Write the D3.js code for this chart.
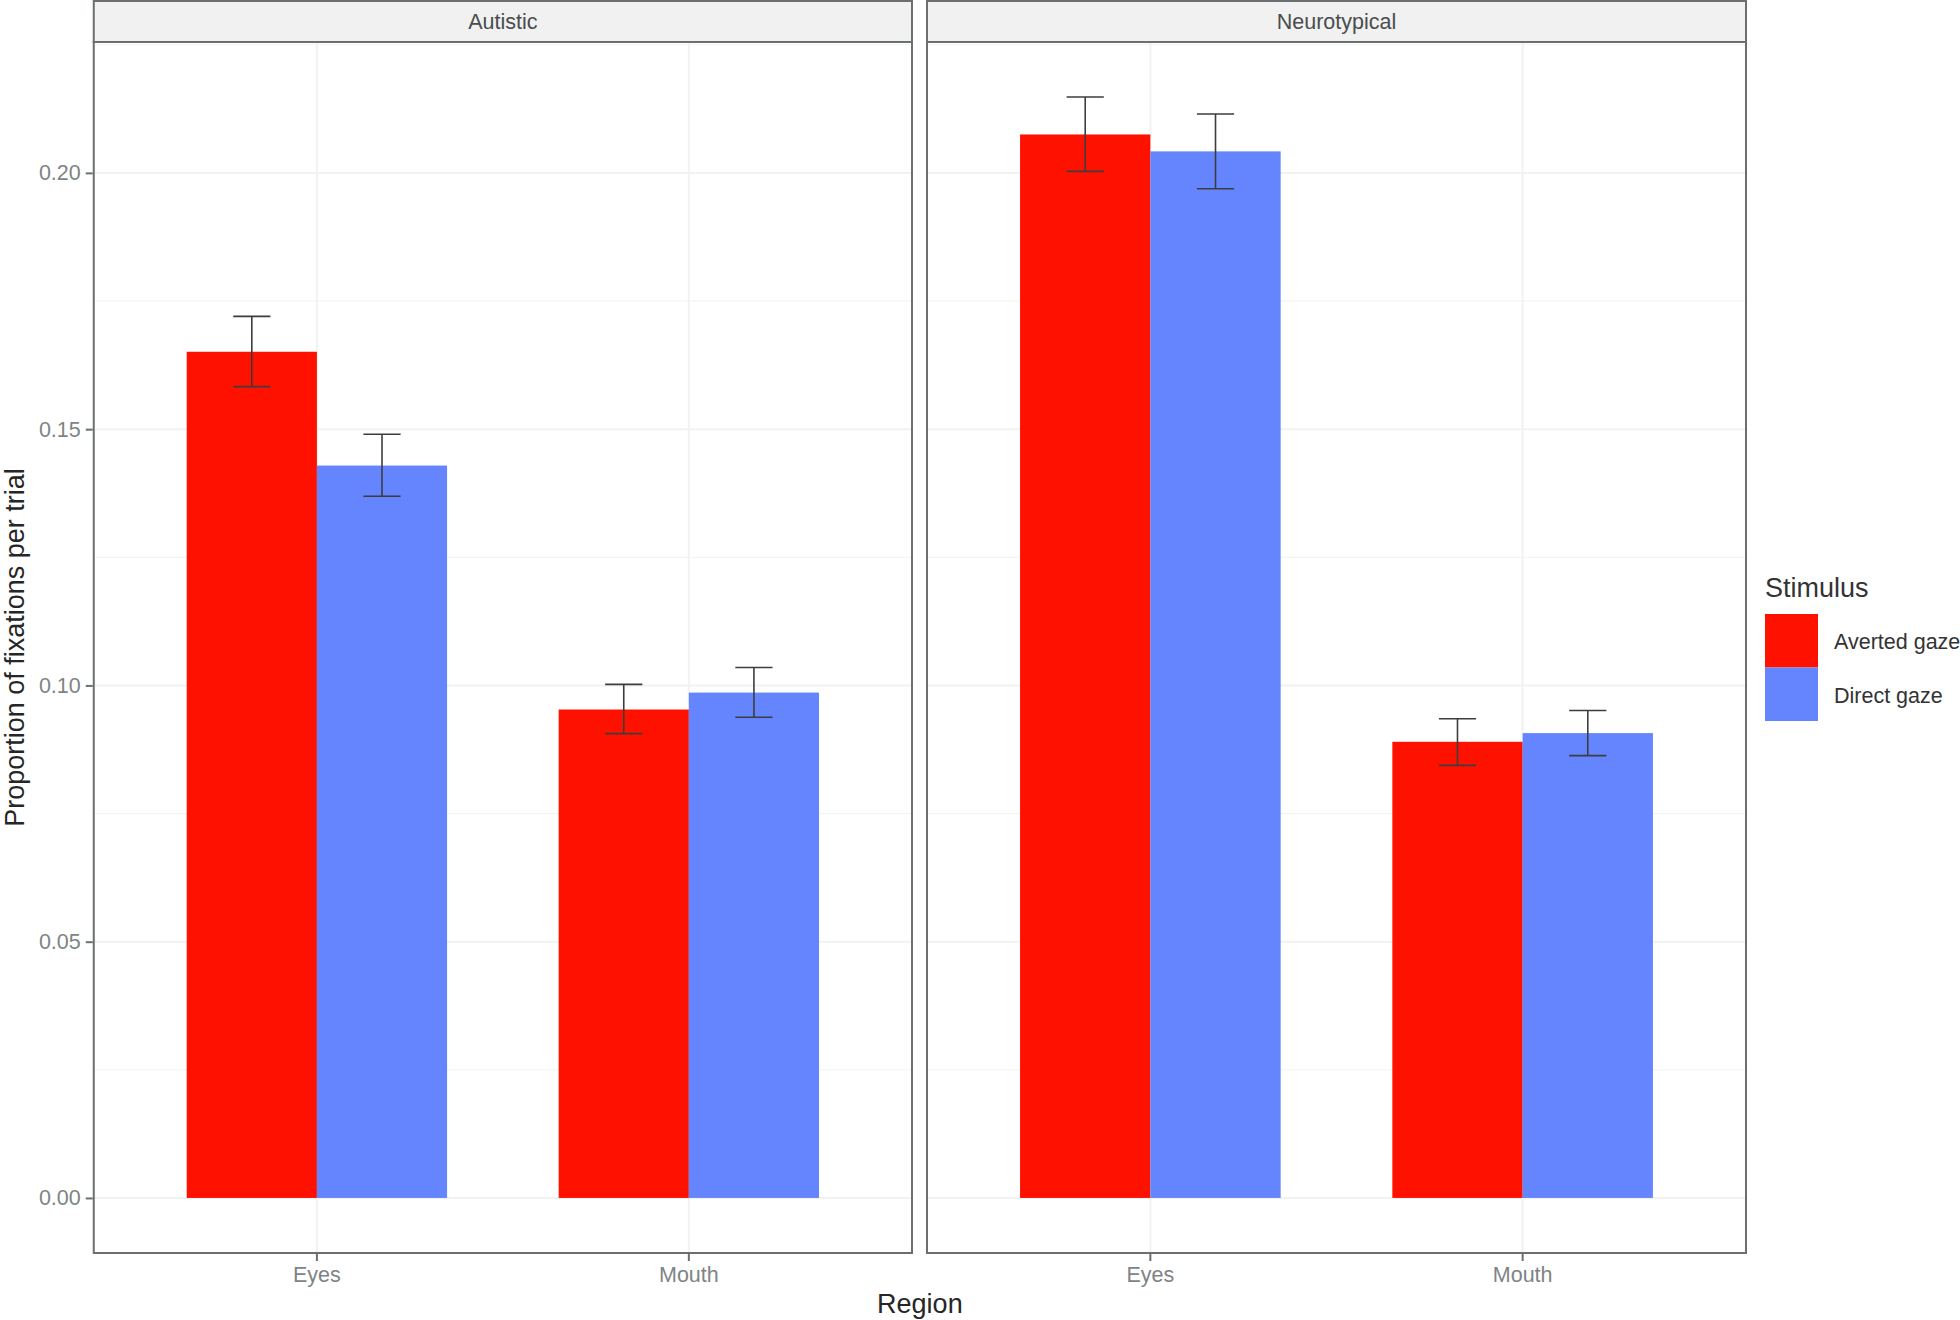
<!DOCTYPE html>
<html>
<head>
<meta charset="utf-8">
<script src="https://cdn.jsdelivr.net/npm/d3@7"></script>
<style>
  body { margin: 0; background: #fff; }
  svg { display: block; font-family: "Liberation Sans", Arial, sans-serif; }
</style>
</head>
<body>
<svg id="chart"></svg>
<script>
// data
const groups = ["Autistic", "Neurotypical"];
const regions = ["Eyes", "Mouth"];
const stimuli = ["Averted gaze", "Direct gaze"];

// order: Autistic Eyes, Autistic Mouth, Neurotypical Eyes, Neurotypical Mouth
const avertedMean = [0.1651, 0.0953, 0.2075, 0.0890];
const avertedLow  = [0.1583, 0.0906, 0.2003, 0.0844];
const avertedHigh = [0.1720, 0.1002, 0.2148, 0.0935];
const directMean  = [0.1429, 0.0986, 0.2042, 0.0907];
const directLow   = [0.1369, 0.0938, 0.1969, 0.0863];
const directHigh  = [0.1490, 0.1035, 0.2115, 0.0951];

const yTicks = [0, 0.05, 0.10, 0.15, 0.20];
const yMinor = [0.025, 0.075, 0.125, 0.175, 0.225];

// layout
var config = {
  w: 1960,
  h: 1320,
  top: 42,
  bottom: 1253,
  stripTop: 1,
  panels: [[93.75, 912], [927, 1746]]
};

var colors = d3.scaleOrdinal().domain(stimuli).range(["#ff1100", "#6585ff"]);

// build rows
var rows = [];
groups.forEach(function(g, gi) {
  regions.forEach(function(r, ri) {
    var k = gi * 2 + ri;
    rows.push({group: g, region: r, stim: stimuli[0], mean: avertedMean[k], lo: avertedLow[k], hi: avertedHigh[k]});
    rows.push({group: g, region: r, stim: stimuli[1], mean: directMean[k], lo: directLow[k], hi: directHigh[k]});
  });
});

var ymax = d3.max(rows, function(d) { return d.hi; });
var y = d3.scaleLinear()
  .domain([-0.05 * ymax, 1.05 * ymax])
  .range([config.bottom, config.top]);

var svg = d3.select("#chart")
  .attr("width", config.w)
  .attr("height", config.h);

var gridCol = "#f1f2f2";
var frameCol = "#6b6f6f";
var tickTextCol = "#7e8484";

groups.forEach(function(grp, gi) {
  var x0 = config.panels[gi][0], x1 = config.panels[gi][1];

  var x = d3.scaleBand()
    .domain(regions)
    .range([x0, x1])
    .paddingInner(0.3)
    .paddingOuter(0.25);

  var xs = d3.scaleBand()
    .domain(stimuli)
    .range([0, x.bandwidth()]);

  var g = svg.append("g").attr("class", "panel");

  // grid
  g.selectAll("line.minor")
    .data(yMinor)
    .enter().append("line")
    .attr("x1", x0).attr("x2", x1)
    .attr("y1", function(d) { return y(d); })
    .attr("y2", function(d) { return y(d); })
    .attr("stroke", gridCol).attr("stroke-width", 1);

  g.selectAll("line.major")
    .data(yTicks)
    .enter().append("line")
    .attr("x1", x0).attr("x2", x1)
    .attr("y1", function(d) { return y(d); })
    .attr("y2", function(d) { return y(d); })
    .attr("stroke", gridCol).attr("stroke-width", 2);

  g.selectAll("line.vgrid")
    .data(regions)
    .enter().append("line")
    .attr("x1", function(d) { return x(d) + x.bandwidth() / 2; })
    .attr("x2", function(d) { return x(d) + x.bandwidth() / 2; })
    .attr("y1", config.top).attr("y2", config.bottom)
    .attr("stroke", gridCol).attr("stroke-width", 2);

  // bars
  var data = rows.filter(function(d) { return d.group == grp; });

  g.selectAll("rect.bar")
    .data(data)
    .enter().append("rect")
    .attr("x", function(d) { return x(d.region) + xs(d.stim); })
    .attr("width", xs.bandwidth())
    .attr("y", function(d) { return y(d.mean); })
    .attr("height", function(d) { return y(0) - y(d.mean); })
    .attr("fill", function(d) { return colors(d.stim); });

  // error bars
  var capW = x.step() * 0.1 / 2;
  var eb = g.selectAll("g.err")
    .data(data)
    .enter().append("g")
    .attr("stroke", "#3d3d3d")
    .attr("stroke-width", 1.6)
    .attr("transform", function(d) {
      return "translate(" + (x(d.region) + xs(d.stim) + xs.bandwidth() / 2) + ",0)";
    });

  eb.append("line")
    .attr("x1", 0).attr("x2", 0)
    .attr("y1", function(d) { return y(d.lo); })
    .attr("y2", function(d) { return y(d.hi); });
  eb.append("line")
    .attr("x1", -capW).attr("x2", capW)
    .attr("y1", function(d) { return y(d.lo); })
    .attr("y2", function(d) { return y(d.lo); });
  eb.append("line")
    .attr("x1", -capW).attr("x2", capW)
    .attr("y1", function(d) { return y(d.hi); })
    .attr("y2", function(d) { return y(d.hi); });

  // panel border
  g.append("rect")
    .attr("x", x0).attr("y", config.top)
    .attr("width", x1 - x0).attr("height", config.bottom - config.top)
    .attr("fill", "none")
    .attr("stroke", frameCol).attr("stroke-width", 2);

  // strip
  g.append("rect")
    .attr("x", x0).attr("y", config.stripTop)
    .attr("width", x1 - x0).attr("height", config.top - config.stripTop)
    .attr("fill", "#f0f1f0")
    .attr("stroke", frameCol).attr("stroke-width", 2);

  g.append("text")
    .attr("x", (x0 + x1) / 2)
    .attr("y", 29)
    .attr("text-anchor", "middle")
    .attr("font-size", 21.5)
    .attr("fill", "#4a4d4d")
    .text(grp);

  // x axis
  var xAxis = d3.axisBottom(x).tickSize(7).tickPadding(6);
  var ax = svg.append("g")
    .attr("transform", "translate(0," + (config.bottom + 1) + ")")
    .call(xAxis);
  ax.select(".domain").remove();
  ax.selectAll(".tick line").attr("stroke", frameCol).attr("stroke-width", 2);
  ax.selectAll(".tick text")
    .attr("font-size", 21.5)
    .attr("font-family", "Liberation Sans, Arial, sans-serif")
    .attr("fill", tickTextCol);

  // y axis on first panel only
  if (gi == 0) {
    var yAxis = d3.axisLeft(y).tickValues(yTicks).tickFormat(d3.format(".2f"))
      .tickSize(7).tickPadding(5);
    var ay = svg.append("g")
      .attr("transform", "translate(" + (x0 - 1) + ",0)")
      .call(yAxis);
    ay.select(".domain").remove();
    ay.selectAll(".tick line").attr("stroke", frameCol).attr("stroke-width", 2);
    ay.selectAll(".tick text")
      .attr("font-size", 21.5)
      .attr("font-family", "Liberation Sans, Arial, sans-serif")
      .attr("fill", tickTextCol);
  }
});

// axis titles
svg.append("text")
  .attr("x", (config.panels[0][0] + config.panels[1][1]) / 2)
  .attr("y", 1313)
  .attr("text-anchor", "middle")
  .attr("font-size", 27)
  .attr("fill", "#262626")
  .text("Region");

svg.append("text")
  .attr("transform", "translate(24," + ((config.top + config.bottom) / 2) + ") rotate(-90)")
  .attr("text-anchor", "middle")
  .attr("font-size", 27)
  .attr("fill", "#262626")
  .text("Proportion of fixations per trial");

// legend
var leg = svg.append("g").attr("transform", "translate(1765,0)");
leg.append("text")
  .attr("x", 0).attr("y", 597)
  .attr("font-size", 27)
  .attr("fill", "#333")
  .text("Stimulus");

var items = leg.selectAll("g.item")
  .data(stimuli)
  .enter().append("g")
  .attr("transform", function(d, i) { return "translate(0," + (614 + i * 53.5) + ")"; });

items.append("rect")
  .attr("width", 53).attr("height", 53.5)
  .attr("fill", function(d) { return colors(d); });

items.append("text")
  .attr("x", 69).attr("y", 35)
  .attr("font-size", 21.5)
  .attr("fill", "#333")
  .text(function(d) { return d; });
</script>
</body>
</html>
